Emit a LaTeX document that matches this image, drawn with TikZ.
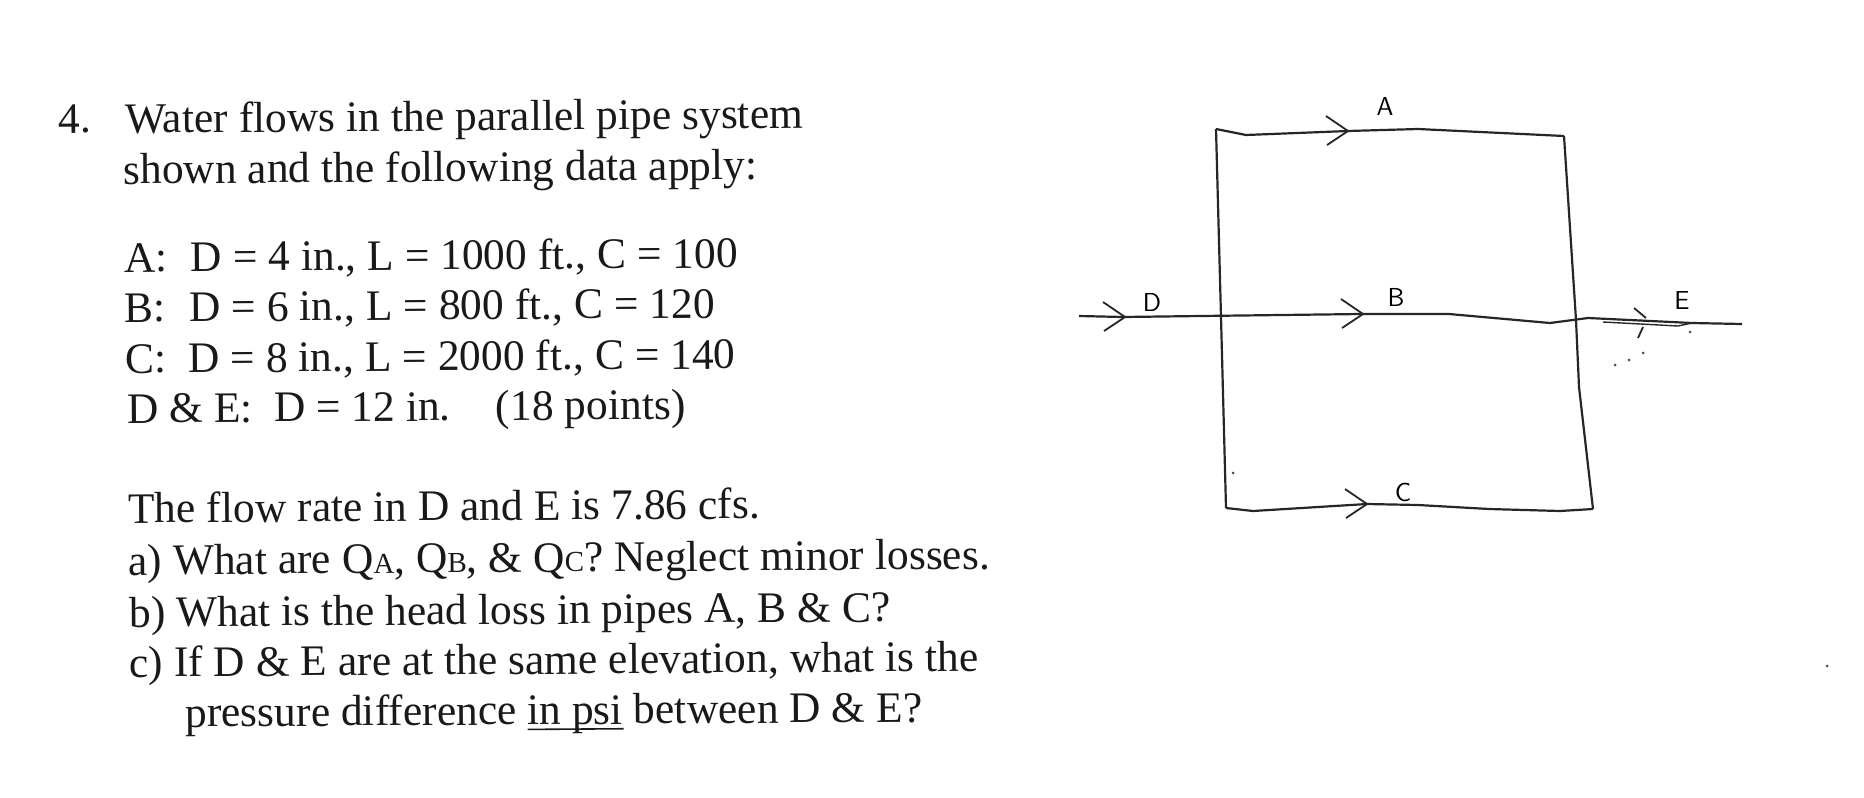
\documentclass[tikz,border=0pt]{standalone}
\usepackage{fontspec}
\setmainfont{Liberation Serif}
\tikzset{
    txt/.style={anchor=base west, inner sep=0pt, rotate=0.4, font=\fontsize{21.75}{21.75}\selectfont, text=black!90},
    lbl/.style={inner sep=0pt, font=\fontfamily{lmss}\fontsize{13}{13}\selectfont},
    pipe/.style={line width=1.1pt, black!85, line join=round},
    barb/.pic={\draw[pipe, line width=0.9pt] (-22,-15) -- (0,0) -- (-21,14);}
}
\newcommand{\smc}[1]{{\fontsize{14.5}{14.5}\selectfont #1}}
\begin{document}
\begin{tikzpicture}[x=0.5pt, y=-0.5pt]
                \useasboundingbox (0,0) rectangle (1864,798);
                \node[txt] (num) at (58,133) {4.};
                \node[txt] (l1) at (125,133) {Water flows in the parallel pipe system};
                \node[txt] (l2) at (123,184) {shown and the following data apply:};
                \node[txt] (da) at (124,272) {A:\hspace{11.5pt}D = 4 in., L = 1000 ft., C = 100};
                \node[txt] (db) at (124,322) {B:\hspace{12pt}D = 6 in., L = 800 ft., C = 120};
                \node[txt] (dc) at (125,373) {C:\hspace{11pt}D = 8 in., L = 2000 ft., C = 140};
                \node[txt] (dd) at (127,423) {D \& E:\hspace{10.5pt}D = 12 in.\hspace{22.5pt}(18 points)};
                \node[txt] (q0) at (128,523) {The flow rate in D and E is 7.86 cfs.};
                \node[txt] (qa) at (128,575) {a) What are Q\smc{A}, Q\smc{B}, \& Q\smc{C}? Neglect minor losses.};
                \node[txt] (qb) at (129,627) {b) What is the head loss in pipes A, B \& C?};
                \node[txt] (qc) at (129,677) {c) If D \& E are at the same elevation, what is the};
                \node[txt] (qd) at (185,727) {pressure difference \makebox[0pt][l]{\rule[-2.8pt]{48pt}{0.8pt}}in psi between D \& E?};

                \coordinate (TL) at (1216,129);
                \coordinate (T1) at (1246,135);
                \coordinate (T2) at (1348,131);
                \coordinate (T3) at (1418,129);
                \coordinate (TR) at (1564,136);
                \coordinate (R1) at (1576,320);
                \coordinate (R2) at (1579,387);
                \coordinate (BR) at (1593,509);
                \coordinate (L1) at (1221,317);
                \coordinate (BL) at (1226,508);
                \coordinate (B1) at (1253,511);
                \coordinate (B2) at (1367,504);
                \coordinate (B3) at (1418,505);
                \coordinate (B4) at (1489,509);
                \coordinate (B5) at (1560,511);
                \coordinate (DS) at (1079,316);
                \coordinate (M1) at (1123,317);
                \coordinate (M2) at (1201,316);
                \coordinate (M3) at (1362,314);
                \coordinate (M4) at (1449,314);
                \coordinate (M5) at (1550,323);
                \coordinate (M6) at (1588,318);
                \coordinate (M7) at (1692,323);
                \coordinate (ES) at (1742,324);
                \coordinate (N1) at (1603,322);
                \coordinate (N2) at (1678,326);

                \draw[pipe] (TL) -- (T1) -- (T2) -- (T3) -- (TR);
                \draw[pipe] (TL) -- (L1) -- (BL);
                \draw[pipe] (TR) -- (R1) -- (R2) -- (BR);
                \draw[pipe] (BL) -- (B1) -- (B2) -- (B3) -- (B4) -- (B5) -- (BR);
                \draw[pipe] (DS) -- (M1) -- (M2) -- (M3) -- (M4) -- (M5) -- (M6) -- (M7) -- (ES);
                \draw[pipe, line width=0.7pt] (N1) -- (N2) -- (M7);

                \pic at (1348,131) {barb};
                \pic at (1363,314) {barb};
                \pic at (1125,317) {barb};
                \pic at (1367,504) {barb};
                \draw[pipe, line width=0.9pt] (1634,308) -- (1646,318);
                \draw[pipe, line width=0.9pt] (1638,338) -- (1643,327);

                \node[lbl] (A) at (1385,106) {A};
                \node[lbl] (B) at (1396,297) {B};
                \node[lbl] (C) at (1403,492) {C};
                \node[lbl] (D) at (1152,302) {D};
                \node[lbl] (E) at (1682,300) {E};

                \foreach \x/\y in {1615/365, 1629/360, 1643/353, 1690/332, 1233/473, 1827/666}
                    \fill[black!70] (\x,\y) circle (1.5);
            \end{tikzpicture}
\end{document}
